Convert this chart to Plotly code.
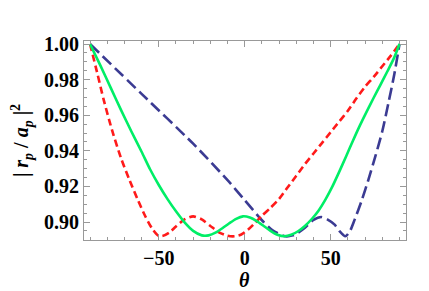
import plotly.graph_objects as go

# Red dashed curve
red_theta = [-90, -86, -82, -77, -72, -67, -62, -58, -54, -50.5, -48, -44, -40, -35, -30, -25, -20, -15, -10, -6, -2, 2, 6, 10, 15, 20, 25, 30, 35, 40, 45, 50, 55, 60, 65, 70, 75, 80, 85, 90]
red_val = [1.0, 0.9845, 0.9685, 0.951, 0.936, 0.9235, 0.912, 0.9035, 0.8965, 0.8925, 0.8921, 0.894, 0.8975, 0.9015, 0.9032, 0.9015, 0.8978, 0.8942, 0.8923, 0.892, 0.893, 0.8958, 0.8995, 0.9035, 0.908, 0.913, 0.9195, 0.926, 0.9325, 0.9385, 0.9445, 0.9505, 0.9565, 0.9625, 0.9695, 0.976, 0.9815, 0.9875, 0.9935, 1.0]

# Green solid curve
green_theta = [-90, -84, -78, -72, -66, -60, -55, -50, -45, -40, -35, -30, -25, -21, -17, -13, -9, -5, -1, 3, 7, 11, 15, 19, 23, 27, 31, 35, 39, 43, 47, 51, 55, 59, 63, 67, 71, 75, 79, 83, 87, 90]
green_val = [1.0, 0.988, 0.9755, 0.963, 0.951, 0.9395, 0.9295, 0.9208, 0.913, 0.906, 0.8998, 0.895, 0.8925, 0.8925, 0.894, 0.8965, 0.8993, 0.9018, 0.9032, 0.9025, 0.9005, 0.8978, 0.895, 0.8928, 0.892, 0.8928, 0.8948, 0.8978, 0.9017, 0.9065, 0.9127, 0.92, 0.9283, 0.937, 0.9458, 0.9543, 0.9622, 0.9698, 0.9772, 0.9847, 0.9925, 1.0]

# Blue long-dashed curve
blue_theta = [-90, -60, -30, -10, 0, 10, 16, 23.5, 28, 31, 35, 40, 44.5, 48, 52.3, 55, 58.5, 61, 64, 68, 72, 76, 80, 83.5, 87, 90]
blue_val = [1.0, 0.972, 0.944, 0.9235, 0.9123, 0.901, 0.8955, 0.892, 0.8925, 0.894, 0.8968, 0.9012, 0.9028, 0.9015, 0.8985, 0.895, 0.892, 0.8945, 0.9015, 0.912, 0.924, 0.937, 0.951, 0.9665, 0.983, 1.0]

x_ticks = [-50, 0, 50]
x_tick_labels = ["\u221250", "0", "50"]
y_ticks = [0.90, 0.92, 0.94, 0.96, 0.98, 1.00]
y_tick_labels = ["0.90", "0.92", "0.94", "0.96", "0.98", "1.00"]

fig = go.Figure()
fig.add_trace(go.Scatter(x=blue_theta, y=blue_val, mode="lines",
                         line=dict(color="#3b3b93", width=2.6, dash="12px,5px", shape="spline", smoothing=0.7)))
fig.add_trace(go.Scatter(x=red_theta, y=red_val, mode="lines",
                         line=dict(color="#ff1a1a", width=2.6, dash="7px,4px", shape="spline", smoothing=0.7)))
fig.add_trace(go.Scatter(x=green_theta, y=green_val, mode="lines",
                         line=dict(color="#00ee66", width=2.6, shape="spline", smoothing=0.7)))

font_main = "Liberation Serif, Times New Roman, serif"
fs = 20
fig.update_layout(
    width=429, height=291,
    margin=dict(l=76, r=31, t=33, b=59),
    paper_bgcolor="white", plot_bgcolor="white",
    showlegend=False,
    font=dict(family=font_main, size=fs, color="black"),
    annotations=[dict(text="<b><i>\u03b8</i></b>", xref="x", yref="paper", x=0, y=-0.2,
                      xanchor="center", yanchor="middle", showarrow=False,
                      font=dict(family=font_main, size=fs, color="black"))],
)
fig.update_xaxes(
    range=[-93.5, 93.8], tickvals=x_ticks, ticktext=["<b>" + t + "</b>" for t in x_tick_labels],
    ticks="inside", ticklen=6, tickcolor="#999999", tickwidth=1,
    minor=dict(dtick=10, tick0=0, ticks="inside", ticklen=3, tickcolor="#999999", showgrid=False),
    showline=True, linecolor="#999999", linewidth=1, mirror="ticks",
    showgrid=False, zeroline=False, automargin=False,
    tickfont=dict(family=font_main, size=fs, color="black"),
)
fig.update_yaxes(
    range=[0.8899, 1.0017], tickvals=y_ticks, ticktext=["<b>" + t + "</b>" for t in y_tick_labels],
    ticks="inside", ticklen=6, tickcolor="#999999", tickwidth=1,
    minor=dict(dtick=0.005, tick0=0.9, ticks="inside", ticklen=3, tickcolor="#999999", showgrid=False),
    showline=True, linecolor="#999999", linewidth=1, mirror="ticks",
    showgrid=False, zeroline=False, automargin=False,
    tickfont=dict(family=font_main, size=fs, color="black"),
    title=dict(text="<b>| <i>r</i><sub><i>p</i></sub> / <i>a</i><sub><i>p</i></sub> |<sup>2</sup></b>",
               font=dict(family=font_main, size=fs, color="black")),
)
fig.write_html("out.html")
